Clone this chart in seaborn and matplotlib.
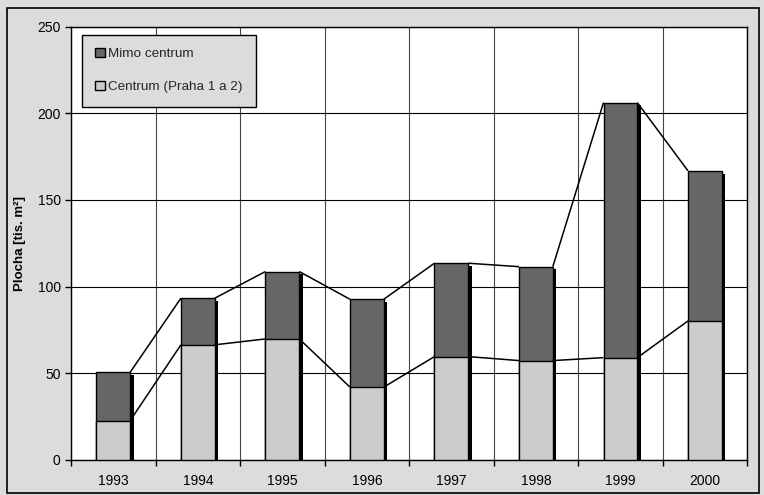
import numpy as np
import pandas as pd
import seaborn as sns
import matplotlib.pyplot as plt
import matplotlib.patheffects as pe
from matplotlib.patches import Rectangle, Patch

years = ['1993', '1994', '1995', '1996', '1997', '1998', '1999', '2000']
centrum = [22.7, 66.4, 69.8, 42.0, 59.6, 57.3, 59.0, 80.2]
mimo = [27.9, 26.9, 38.9, 50.7, 53.9, 54.2, 147.2, 86.6]

df = pd.DataFrame({'rok': years, 'centrum': centrum, 'mimo': mimo})
df['celkem'] = df['centrum'] + df['mimo']

sns.set_theme(style='white')
plt.rcParams['font.family'] = ['Liberation Sans', 'DejaVu Sans']

fig = plt.figure(figsize=(7.64, 4.95), dpi=100)
fig.patch.set_facecolor('#dcdcdc')
ax = fig.add_axes([0.093, 0.071, 0.885, 0.875])
ax.set_facecolor('white')

bw = 0.4
shadow = [pe.SimplePatchShadow(offset=(2.5, -2), shadow_rgbFace='black', alpha=1.0), pe.Normal()]

sns.barplot(data=df, x='rok', y='celkem', color='#666666', width=bw,
            edgecolor='black', linewidth=1, saturation=1, ax=ax, zorder=3)
sns.barplot(data=df, x='rok', y='centrum', color='#cccccc', width=bw,
            edgecolor='black', linewidth=1, saturation=1, ax=ax, zorder=4)
for p in ax.patches:
    p.set_path_effects(shadow)

# series lines between bar tops (Excel style)
pos = np.arange(len(years))
for col in ['centrum', 'celkem']:
    vals = df[col].values
    for i in range(len(years) - 1):
        ax.plot([pos[i] + bw / 2, pos[i + 1] - bw / 2], [vals[i], vals[i + 1]],
                color='black', lw=1.1, zorder=5, solid_capstyle='butt')

ax.set_xlim(-0.5, len(years) - 0.5)
ax.set_ylim(0, 250)
ax.set_yticks(range(0, 251, 50))
ax.set_xticks(pos)
ax.set_xticks(np.arange(-0.5, len(years)), minor=True)
ax.tick_params(axis='x', which='major', length=0, pad=10, labelsize=10, colors='black')
ax.tick_params(axis='x', which='minor', length=4, width=1, direction='out', color='black', bottom=True)
ax.tick_params(axis='y', length=4, width=1, direction='out', labelsize=10, colors='black', left=True)

ax.grid(axis='y', color='black', lw=0.8, zorder=0)
ax.grid(axis='x', which='minor', color='#444444', lw=0.8, zorder=0)
ax.set_axisbelow(True)
for s in ax.spines.values():
    s.set_color('black')
    s.set_linewidth(1)

ax.set_xlabel('')
ax.set_ylabel('Plocha [tis. m²]', fontsize=9.5, fontweight='bold', color='black', labelpad=8)

handles = [Patch(facecolor='#666666', edgecolor='black', label='Mimo centrum'),
           Patch(facecolor='#cccccc', edgecolor='black', label='Centrum (Praha 1 a 2)')]
leg = ax.legend(handles=handles, loc='upper left', bbox_to_anchor=(0.016, 0.982),
                fontsize=9.7, frameon=True, fancybox=False, framealpha=1,
                handlelength=0.7, handleheight=0.7, handletextpad=0.25,
                labelspacing=1.5, borderpad=1.0, borderaxespad=0)
leg.get_frame().set_facecolor('#dcdcdc')
leg.get_frame().set_edgecolor('black')
leg.get_frame().set_linewidth(1)
leg.set_zorder(10)

fig.patches.append(Rectangle((0.009, 0.004), 0.985, 0.98, transform=fig.transFigure,
                             fill=False, edgecolor='black', lw=1.2))

fig.savefig('out.png', dpi=100, facecolor=fig.get_facecolor())
